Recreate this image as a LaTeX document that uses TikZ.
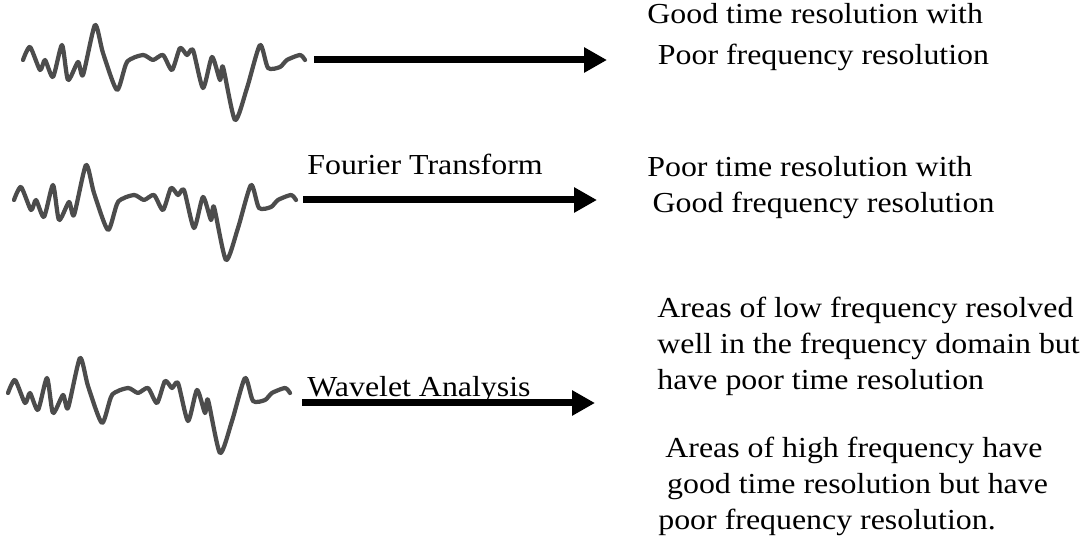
\documentclass[tikz,border=0pt]{standalone}
\usepackage{fontspec}
\setmainfont{Liberation Serif}[FakeStretch=1.1]
\usetikzlibrary{arrows.meta}

\begin{document}
\begin{tikzpicture}[
  x=0.02cm, y=-0.02cm,
  wave/.style={draw=black!70, line width=0.085cm, line join=round, line cap=round},
  bigarrow/.style={line width=0.14cm, -{Triangle[length=0.46cm, width=0.48cm]}},
  txt/.style={inner sep=0pt, anchor=base west, align=left, font=\fontsize{16.5}{20.5}\selectfont},
  signal/.pic={
    \draw[wave] plot[smooth, tension=0.4] coordinates {
      (0,0) (7,-13) (17,10) (22,0) (30,17) (39,-15) (45,20) (55,2) (60,15)
      (72,-35) (80,-7) (94,30) (104,2) (120,-5) (130,0) (140,-5) (149,10)
      (157,-12) (164,-5) (170,-10) (180,28) (189,-3) (197,20) (200,7)
      (212,60) (224,28) (237,-15) (245,8) (257,7) (264,0) (277,-5) (282,0)};
  }
]
\useasboundingbox (0,0) rectangle (1086,553);

% signals
\pic at (23,60) {signal};
\pic at (14,200) {signal};
\pic at (8,393) {signal};

% arrow ends
\coordinate (s1) at (314,60);
\coordinate (e1) at (607,60);
\coordinate (s2) at (303,200);
\coordinate (e2) at (597,200);
\coordinate (s3) at (302,403);
\coordinate (e3) at (595,403);

\draw[bigarrow] (s1) -- (e1);
\draw[bigarrow] (s2) -- (e2);
\draw[bigarrow] (s3) -- (e3);

% labels (anchored at the last line)
\node[txt] (ft) at (307,175) {Fourier Transform};
\node[txt] (wa) at (307,397) {Wavelet Analysis};

\node[txt] (stft) at (647,65) {Good time resolution with\\[3pt]\hspace{6pt}Poor frequency resolution};
\node[txt] (four) at (647,213) {Poor time resolution with\\\hspace{3pt}Good frequency resolution};
\node[txt] (low) at (657,390) {Areas of low frequency resolved\\well in the frequency domain but\\have poor time resolution};
\node[txt] (high) at (658,530) {\hspace{4pt}Areas of high frequency have\\\hspace{5pt}good time resolution but have\\poor frequency resolution.};
\end{tikzpicture}
\end{document}
